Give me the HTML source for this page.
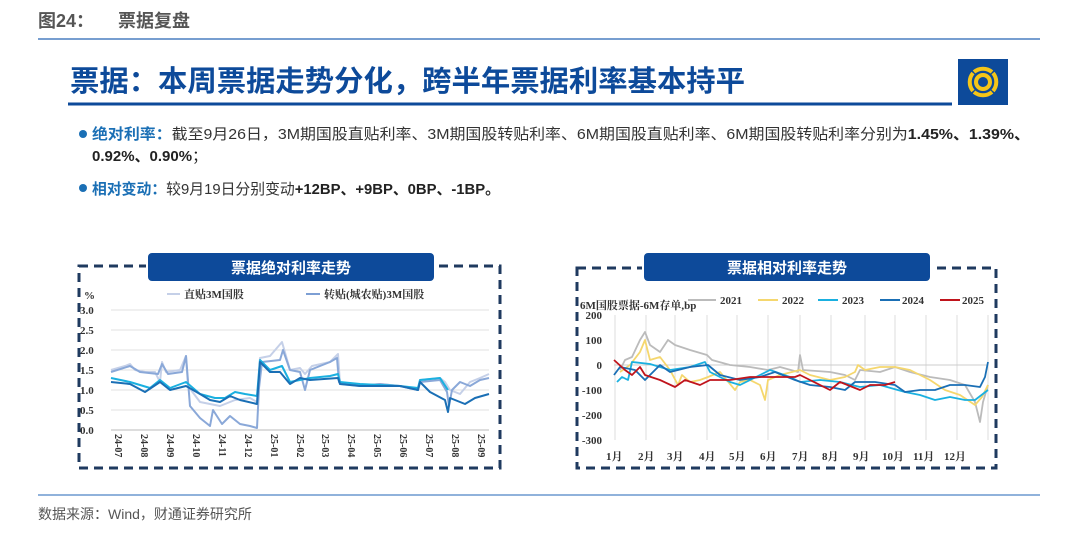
<!DOCTYPE html>
<html><head><meta charset="utf-8"><style>
html,body{margin:0;padding:0;background:#fff;}
body{width:1080px;height:541px;overflow:hidden;position:relative;font-family:"Liberation Sans","Noto Sans CJK SC",sans-serif;}
svg{position:absolute;left:0;top:0;}
</style></head><body>
<svg width="1080" height="541" viewBox="0 0 1080 541" xmlns="http://www.w3.org/2000/svg" font-family="Liberation Sans, Noto Sans CJK SC, sans-serif">
<!-- header -->
<text x="38" y="27" font-size="18" font-weight="bold" fill="#555">图24：</text>
<text x="118" y="27" font-size="18" font-weight="bold" fill="#555">票据复盘</text>
<line x1="38" y1="39" x2="1040" y2="39" stroke="#4a7fc1" stroke-width="1.5"/>
<!-- title -->
<text x="70" y="91" font-size="29" font-weight="bold" fill="#0d4a9a" textLength="675" lengthAdjust="spacingAndGlyphs">票据：本周票据走势分化，跨半年票据利率基本持平</text>
<line x1="68" y1="104" x2="952" y2="104" stroke="#0d4a9a" stroke-width="3"/>
<rect x="958" y="59" width="50" height="46" fill="#0d4a9a"/>
<g fill="none" stroke="#f5c518" stroke-width="4">
<circle cx="983" cy="82" r="7"/>
<path d="M974 72 a14 14 0 0 1 18 0 M974 92 a14 14 0 0 0 18 0 M973 73 a14 14 0 0 0 0 18 M993 73 a14 14 0 0 1 0 18"/>
</g>
<!-- bullets -->
<g font-size="15">
<circle cx="83" cy="134" r="4" fill="#1a6fb5"/>
<text x="92" y="139" textLength="938" lengthAdjust="spacingAndGlyphs"><tspan fill="#1a6fb5" font-weight="bold">绝对利率：</tspan><tspan fill="#333">截至9月26日，3M期国股直贴利率、3M期国股转贴利率、6M期国股直贴利率、6M期国股转贴利率分别为</tspan><tspan fill="#222" font-weight="bold">1.45%、1.39%、</tspan></text>
<text x="92" y="161" fill="#222" font-weight="bold">0.92%、0.90%<tspan font-weight="normal">；</tspan></text>
<circle cx="83" cy="188" r="4" fill="#1a6fb5"/>
<text x="92" y="194" textLength="408" lengthAdjust="spacingAndGlyphs"><tspan fill="#1a6fb5" font-weight="bold">相对变动：</tspan><tspan fill="#333">较9月19日分别变动</tspan><tspan fill="#222" font-weight="bold">+12BP、+9BP、0BP、-1BP。</tspan></text>
</g>

<!-- LEFT CHART -->
<rect x="79" y="266" width="421" height="202" fill="none" stroke="#1f3a5f" stroke-width="3" stroke-dasharray="9,6"/>
<rect x="147" y="252" width="288" height="30" rx="5" fill="#0d4a9a" stroke="#fff" stroke-width="2"/>
<text x="291" y="273" font-size="15" font-weight="bold" fill="#fff" text-anchor="middle">票据绝对利率走势</text>
<g font-family="Liberation Serif, Noto Serif CJK SC, serif" font-size="11" font-weight="bold" fill="#333">
<text x="84" y="299">%</text>
<line x1="167" y1="294" x2="180" y2="294" stroke="#c5d0e8" stroke-width="2"/>
<text x="184" y="298">直贴3M国股</text>
<line x1="306" y1="294" x2="320" y2="294" stroke="#7d9fd4" stroke-width="2"/>
<text x="324" y="298">转贴(城农贴)3M国股</text>
<g stroke="#e0e0e0" stroke-width="1">
<line x1="111" y1="310" x2="489" y2="310"/><line x1="111" y1="330" x2="489" y2="330"/><line x1="111" y1="350" x2="489" y2="350"/><line x1="111" y1="370" x2="489" y2="370"/><line x1="111" y1="390" x2="489" y2="390"/><line x1="111" y1="410" x2="489" y2="410"/>
</g>
<line x1="111" y1="430" x2="489" y2="430" stroke="#bbb"/>
<text x="80" y="314">3.0</text><text x="80" y="334">2.5</text><text x="80" y="354">2.0</text><text x="80" y="374">1.5</text><text x="80" y="394">1.0</text><text x="80" y="414">0.5</text><text x="80" y="434">0.0</text>
<g font-size="10">
<text transform="translate(115,434) rotate(90)">24-07</text>
<text transform="translate(141,434) rotate(90)">24-08</text>
<text transform="translate(167,434) rotate(90)">24-09</text>
<text transform="translate(193,434) rotate(90)">24-10</text>
<text transform="translate(219,434) rotate(90)">24-11</text>
<text transform="translate(245,434) rotate(90)">24-12</text>
<text transform="translate(271,434) rotate(90)">25-01</text>
<text transform="translate(297,434) rotate(90)">25-02</text>
<text transform="translate(322,434) rotate(90)">25-03</text>
<text transform="translate(348,434) rotate(90)">25-04</text>
<text transform="translate(374,434) rotate(90)">25-05</text>
<text transform="translate(400,434) rotate(90)">25-06</text>
<text transform="translate(426,434) rotate(90)">25-07</text>
<text transform="translate(452,434) rotate(90)">25-08</text>
<text transform="translate(478,434) rotate(90)">25-09</text>
</g>
</g>
<g fill="none" stroke-width="2" stroke-linejoin="round">
<polyline stroke="#c5d0e8" points="111,370 125,366 130,364 135,370 145,372 155,372 160,382 162,362 166,372 180,370 186,356 188,386 200,402 210,404 220,406 235,400 250,398 257,402 260,358 270,356 282,342 290,370 300,368 305,374 312,366 330,362 338,354 340,384 360,386 380,384 400,386 418,390 420,380 440,378 445,382 450,390 460,394 470,382 480,378 489,374"/>
<polyline stroke="#8aa8d8" points="111,372 130,366 140,372 158,374 162,364 168,374 182,372 186,356 190,406 200,418 210,426 213,410 222,424 230,416 240,424 250,426 257,428 259,388 262,362 280,360 283,350 290,370 300,372 305,390 310,370 330,362 337,358 339,382 360,386 380,384 400,386 418,390 420,382 440,380 447,392 449,406 452,390 460,382 470,386 480,380 489,378"/>
<polyline stroke="#1ab0e0" points="111,378 130,382 150,388 160,380 170,388 186,382 200,394 215,398 225,398 235,392 245,394 257,396 260,360 270,370 282,366 290,382 310,378 330,376 338,374 340,382 360,384 400,386 418,388 420,380 440,378 448,390"/>
<polyline stroke="#1a6fb5" points="111,382 130,384 145,392 160,382 170,390 186,386 200,394 210,400 220,402 230,396 240,400 257,404 260,362 270,372 280,372 290,384 300,378 310,380 338,378 340,384 360,386 400,386 418,390 420,382 430,392 445,400 448,412 450,398 465,404 475,398 489,394"/>
</g>

<!-- RIGHT CHART -->
<rect x="577" y="268" width="419" height="200" fill="none" stroke="#1f3a5f" stroke-width="3" stroke-dasharray="9,6"/>
<rect x="643" y="252" width="288" height="30" rx="5" fill="#0d4a9a" stroke="#fff" stroke-width="2"/>
<text x="787" y="273" font-size="15" font-weight="bold" fill="#fff" text-anchor="middle">票据相对利率走势</text>
<g font-family="Liberation Serif, Noto Serif CJK SC, serif" font-size="11" font-weight="bold" fill="#333">
<text x="580" y="309">6M国股票据-6M存单,bp</text>
<line x1="688" y1="300" x2="716" y2="300" stroke="#bbb" stroke-width="2"/><text x="720" y="304">2021</text>
<line x1="758" y1="300" x2="778" y2="300" stroke="#f5d76e" stroke-width="2"/><text x="782" y="304">2022</text>
<line x1="818" y1="300" x2="838" y2="300" stroke="#1ab0e0" stroke-width="2"/><text x="842" y="304">2023</text>
<line x1="880" y1="300" x2="900" y2="300" stroke="#1a6fb5" stroke-width="2"/><text x="902" y="304">2024</text>
<line x1="940" y1="300" x2="960" y2="300" stroke="#c0141c" stroke-width="2"/><text x="962" y="304">2025</text>
<g stroke="#ddd" stroke-width="1">
<line x1="615" y1="315" x2="615" y2="440"/><line x1="646" y1="315" x2="646" y2="440"/><line x1="675" y1="315" x2="675" y2="440"/><line x1="707" y1="315" x2="707" y2="440"/><line x1="737" y1="315" x2="737" y2="440"/><line x1="768" y1="315" x2="768" y2="440"/><line x1="800" y1="315" x2="800" y2="440"/><line x1="831" y1="315" x2="831" y2="440"/><line x1="865" y1="315" x2="865" y2="440"/><line x1="895" y1="315" x2="895" y2="440"/><line x1="926" y1="315" x2="926" y2="440"/><line x1="957" y1="315" x2="957" y2="440"/><line x1="988" y1="315" x2="988" y2="440"/>
</g>
<line x1="614" y1="365" x2="988" y2="365" stroke="#ccc"/>
<g text-anchor="end">
<text x="602" y="319">200</text><text x="602" y="344">100</text><text x="602" y="369">0</text><text x="602" y="394">-100</text><text x="602" y="419">-200</text><text x="602" y="444">-300</text>
</g>
<text x="606" y="460">1月</text><text x="638" y="460">2月</text><text x="667" y="460">3月</text><text x="699" y="460">4月</text><text x="729" y="460">5月</text><text x="760" y="460">6月</text><text x="792" y="460">7月</text><text x="822" y="460">8月</text><text x="853" y="460">9月</text><text x="882" y="460">10月</text><text x="913" y="460">11月</text><text x="944" y="460">12月</text>
</g>
<g fill="none" stroke-width="1.8" stroke-linejoin="round">
<polyline stroke="#bbb" points="620,370 625,360 632,357 640,340 645,332 650,345 660,352 668,340 675,345 690,350 707,355 712,360 730,365 750,367 768,370 780,367 798,372 800,355 803,370 830,372 845,375 855,380 860,370 880,372 895,367 910,372 930,377 950,380 965,385 975,402 980,422 983,402 988,385"/>
<polyline stroke="#f5d76e" points="620,372 630,365 640,352 645,340 650,360 660,357 670,370 678,385 682,375 690,382 700,380 708,377 720,372 735,390 740,382 750,380 760,385 765,400 768,380 780,375 800,370 810,375 830,380 845,377 855,372 858,365 865,370 880,367 895,367 910,370 930,380 945,390 960,395 975,405 982,397 988,385"/>
<polyline stroke="#1ab0e0" points="617,382 622,377 628,380 632,362 650,364 670,370 690,367 705,362 710,372 730,382 740,385 760,375 770,370 790,377 800,382 820,380 840,382 860,387 880,385 905,392 920,395 935,400 950,397 965,400 975,400 988,390"/>
<polyline stroke="#1a6fb5" points="614,375 620,367 635,370 645,380 660,365 670,372 690,367 708,365 720,375 740,380 760,377 775,372 795,380 810,385 830,387 845,390 855,382 875,382 895,385 905,392 920,390 935,390 950,385 965,385 980,387 985,377 988,362"/>
<polyline stroke="#c0141c" points="614,360 625,370 632,375 640,367 645,375 660,380 675,387 685,380 700,385 710,380 730,380 750,377 770,377 795,377 800,375 810,380 830,390 840,382 860,390 870,385 885,385 895,382"/>
</g>

<!-- footer -->
<line x1="38" y1="495" x2="1040" y2="495" stroke="#6b98cf" stroke-width="1.5"/>
<text x="38" y="519" font-size="14" fill="#555">数据来源：Wind，财通证券研究所</text>
</svg>
</body></html>
